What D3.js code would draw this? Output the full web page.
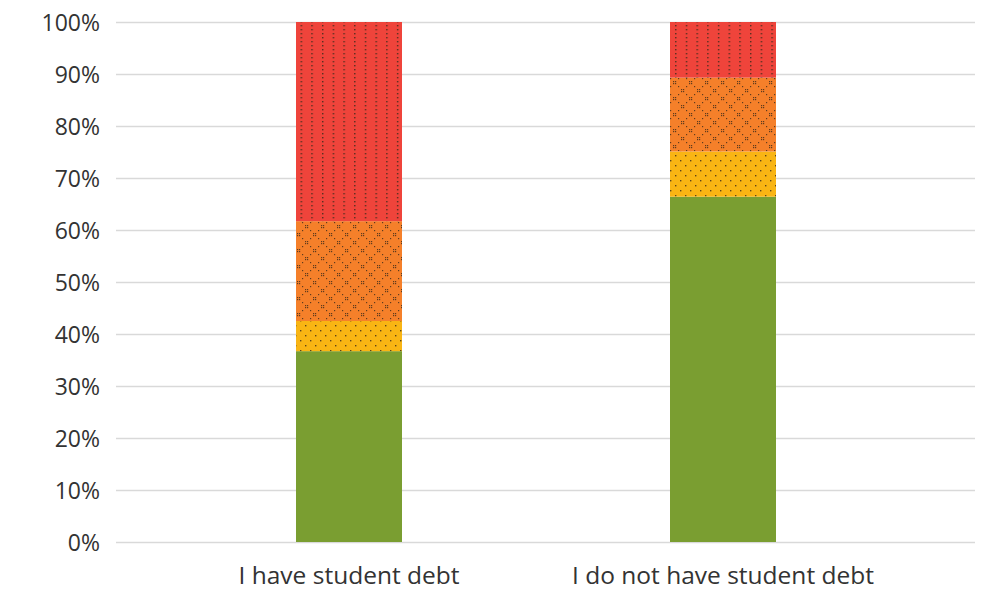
<!DOCTYPE html>
<meta charset="utf-8">
<style>
    body { margin: 0; background: #fff; }
    .grid line { stroke: #d9d9d9; stroke-width: 1.5; }
    .tick text { font-family: "Open Sans", sans-serif; fill: #333; }
</style>
<body>
<script src="https://cdnjs.cloudflare.com/ajax/libs/d3/7.8.5/d3.min.js"></script>
<script>
    var width = 991, height = 592;

    // categories and stacked shares (percent)
    var categories = ["I have student debt", "I do not have student debt"];
    var seriesNames = ["green", "yellow", "orange", "red"];
    var greenVals  = [36.7, 66.4];
    var yellowVals = [5.8, 8.7];
    var orangeVals = [19.2, 14.2];
    var redVals    = [38.3, 10.7];
    var yTicks = [0, 10, 20, 30, 40, 50, 60, 70, 80, 90, 100];

    var colors = { green: "#7a9e31", yellow: "#f9b514", orange: "#f5802a", red: "#ef443b" };

    var rows = categories.map(function(c, i) {
        return { cat: c, green: greenVals[i], yellow: yellowVals[i], orange: orangeVals[i], red: redVals[i] };
    });
    var stacked = d3.stack().keys(seriesNames)(rows);

    var svg = d3.select("body").append("svg")
        .attr("width", width)
        .attr("height", height);

    var defs = svg.append("defs");
    var dot = "#3a2a1a";

    // red: vertical dotted lines
    var pr = defs.append("pattern").attr("id", "p-red").attr("patternUnits", "userSpaceOnUse")
        .attr("width", 10.7).attr("height", 4);
    pr.append("rect").attr("width", 10.7).attr("height", 4).attr("fill", colors.red);
    pr.append("rect").attr("x", 1).attr("y", 1).attr("width", 1.4).attr("height", 1.4).attr("fill", dot).attr("opacity", 0.85);

    // yellow: diagonal dotted lines
    var py = defs.append("pattern").attr("id", "p-yellow").attr("patternUnits", "userSpaceOnUse")
        .attr("width", 10).attr("height", 10);
    py.append("rect").attr("width", 10).attr("height", 10).attr("fill", colors.yellow);
    [[0, 0], [5, 5]].forEach(function(p) {
        py.append("rect").attr("x", p[0]).attr("y", p[1]).attr("width", 1.4).attr("height", 1.4).attr("fill", dot).attr("opacity", 0.8);
    });

    // orange: dotted lattice with small clusters
    var po = defs.append("pattern").attr("id", "p-orange").attr("patternUnits", "userSpaceOnUse")
        .attr("width", 16).attr("height", 16);
    po.append("rect").attr("width", 16).attr("height", 16).attr("fill", colors.orange);
    [[1, 1], [3, 1], [1, 3], [3, 3], [9, 9], [11, 9], [9, 11], [11, 11], [6, 6], [14, 6], [6, 14], [14, 14]].forEach(function(p) {
        po.append("rect").attr("x", p[0]).attr("y", p[1]).attr("width", 1.2).attr("height", 1.2).attr("fill", dot).attr("opacity", 0.8);
    });

    var fills = { green: colors.green, yellow: "url(#p-yellow)", orange: "url(#p-orange)", red: "url(#p-red)" };

    var xScale = d3.scaleBand()
        .domain(categories)
        .range([162, 910])
        .paddingInner(0.7166)
        .paddingOuter(0.3583);

    var yScale = d3.scaleLinear()
        .domain([0, 100])
        .range([542, 22]);

    // gridlines + y labels
    var yAxis = svg.append("g")
        .attr("class", "grid")
        .attr("transform", "translate(116,0)")
        .call(d3.axisLeft(yScale)
            .tickValues(yTicks)
            .tickSize(-859)
            .tickPadding(16)
            .tickFormat(function(d) { return d + "%"; }));
    yAxis.select(".domain").remove();
    yAxis.selectAll(".tick text").attr("font-size", 23).attr("dy", "0.36em");

    // bars
    svg.selectAll(".series")
        .data(stacked)
        .enter().append("g")
        .attr("class", "series")
        .attr("fill", function(d) { return fills[d.key]; })
        .selectAll("rect")
        .data(function(d) { return d; })
        .enter().append("rect")
        .attr("x", function(d) { return xScale(d.data.cat); })
        .attr("width", xScale.bandwidth())
        .attr("y", function(d) { return yScale(d[1]); })
        .attr("height", function(d) { return yScale(d[0]) - yScale(d[1]); });

    // category labels
    var xAxis = svg.append("g")
        .attr("transform", "translate(0,542)")
        .call(d3.axisBottom(xScale).tickSize(0).tickPadding(25));
    xAxis.select(".domain").remove();
    xAxis.selectAll(".tick text").attr("font-size", 24.5).attr("fill", "#222");
</script>
</body>
